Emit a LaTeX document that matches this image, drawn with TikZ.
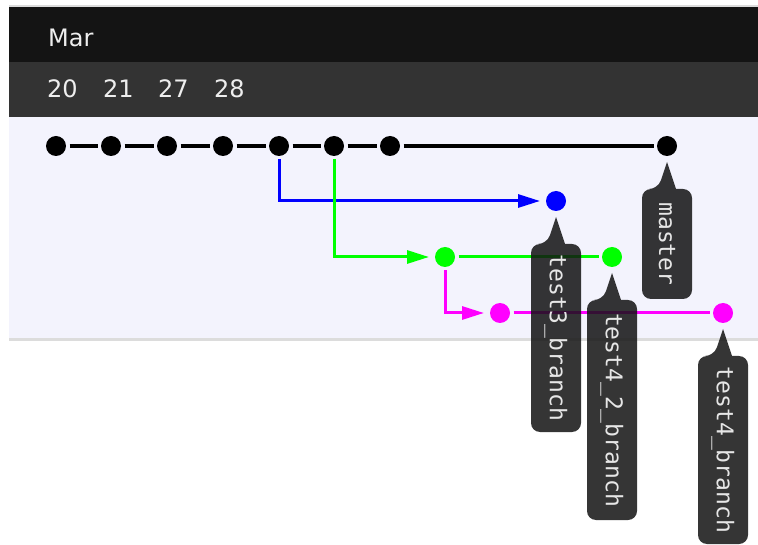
\documentclass[tikz,border=0pt]{standalone}
\usepackage{fontspec}
\setmainfont{DejaVu Sans}
\newfontfamily\lblfont{DejaVu Sans Mono}
\usetikzlibrary{arrows.meta,calc}
\definecolor{hdrA}{HTML}{141414}
\definecolor{hdrB}{HTML}{333333}
\definecolor{panel}{HTML}{F3F3FD}
\definecolor{panelline}{HTML}{DCDCDC}
\definecolor{lblbg}{HTML}{121212}
\definecolor{lbltxt}{HTML}{E6E6E6}
\definecolor{hdrtxt}{HTML}{EEEEEE}
\definecolor{bblue}{HTML}{0000FF}
\definecolor{bgreen}{HTML}{00FF00}
\definecolor{bmag}{HTML}{FF00FF}
\newcommand\branchcallout[4]{%
  \fill[lblbg,fill opacity=0.85] ($(#1.center)+(0,16)$) -- ++(9,27) [rounded corners=9pt] -- ++(16,0) -- ++(0,#2) -- ++(-50,0) -- ++(0,-#2) -- ++(16,0) [sharp corners] -- cycle;
  \node[lbltext] (#4) at ($(#1.center)+(0,{43+#2/2})$) {#3};%
}
\begin{document}
\begin{tikzpicture}[x=1pt,y=-1pt,
  commit/.style={circle,fill=#1,inner sep=0pt,minimum size=20pt,outer sep=3.5pt},
  hdrtext/.style={text=hdrtxt,font=\fontsize{24}{28}\selectfont,inner sep=0pt,anchor=base west},
  lbltext/.style={text=lbltxt,font=\lblfont\fontsize{23}{26}\selectfont,rotate=-90,inner sep=0pt},
  trunk/.style={draw=black,line width=4pt},
  branchline/.style={draw=#1,line width=3pt},
  tip/.style={-{Triangle[length=22pt,width=13pt]},shorten >=2.5pt}]
\useasboundingbox (0,0) rectangle (758,545);
% bands
\fill[panelline] (9,5.5) rectangle (758,7);
\fill[hdrA] (9,7) rectangle (758,62);
\fill[hdrB] (9,62) rectangle (758,117);
\fill[panel] (9,117) rectangle (758,338);
\fill[panelline] (9,338) rectangle (758,341);
% header texts
\node[hdrtext] (mon) at (48,47) {Mar};
\node[hdrtext] (d20) at (47,98) {20};
\node[hdrtext] (d21) at (103,98) {21};
\node[hdrtext] (d27) at (158,98) {27};
\node[hdrtext] (d28) at (214,98) {28};
% commits
\node[commit=black] (c1) at (56,146) {};
\node[commit=black] (c2) at (111,146) {};
\node[commit=black] (c3) at (167,146) {};
\node[commit=black] (c4) at (223,146) {};
\node[commit=black] (c5) at (279,146) {};
\node[commit=black] (c6) at (334,146) {};
\node[commit=black] (c7) at (390,146) {};
\node[commit=black] (c8) at (667,146) {};
\node[commit=bblue] (b1) at (556,201) {};
\node[commit=bgreen] (g1) at (445,257) {};
\node[commit=bgreen] (g2) at (612,257) {};
\node[commit=bmag] (m1) at (500,313) {};
\node[commit=bmag] (m2) at (723,313) {};
% connectors
\draw[trunk] (c1) -- (c2);
\draw[trunk] (c2) -- (c3);
\draw[trunk] (c3) -- (c4);
\draw[trunk] (c4) -- (c5);
\draw[trunk] (c5) -- (c6);
\draw[trunk] (c6) -- (c7);
\draw[trunk] (c7) -- (c8);
\draw[branchline=bblue,tip,bblue] (c5) |- (b1);
\draw[branchline=bgreen,tip,bgreen] (c6) |- (g1);
\draw[branchline=bgreen] (g1) -- (g2);
\draw[branchline=bmag,tip,bmag] (g1) |- (m1);
\draw[branchline=bmag] (m1) -- (m2);
% labels
\branchcallout{c8}{110}{master}{lmaster}
\branchcallout{b1}{188}{test3\_branch}{ltestthree}
\branchcallout{g2}{220}{test4\_2\_branch}{ltestfourtwo}
\branchcallout{m2}{188}{test4\_branch}{ltestfour}
\end{tikzpicture}
\end{document}
